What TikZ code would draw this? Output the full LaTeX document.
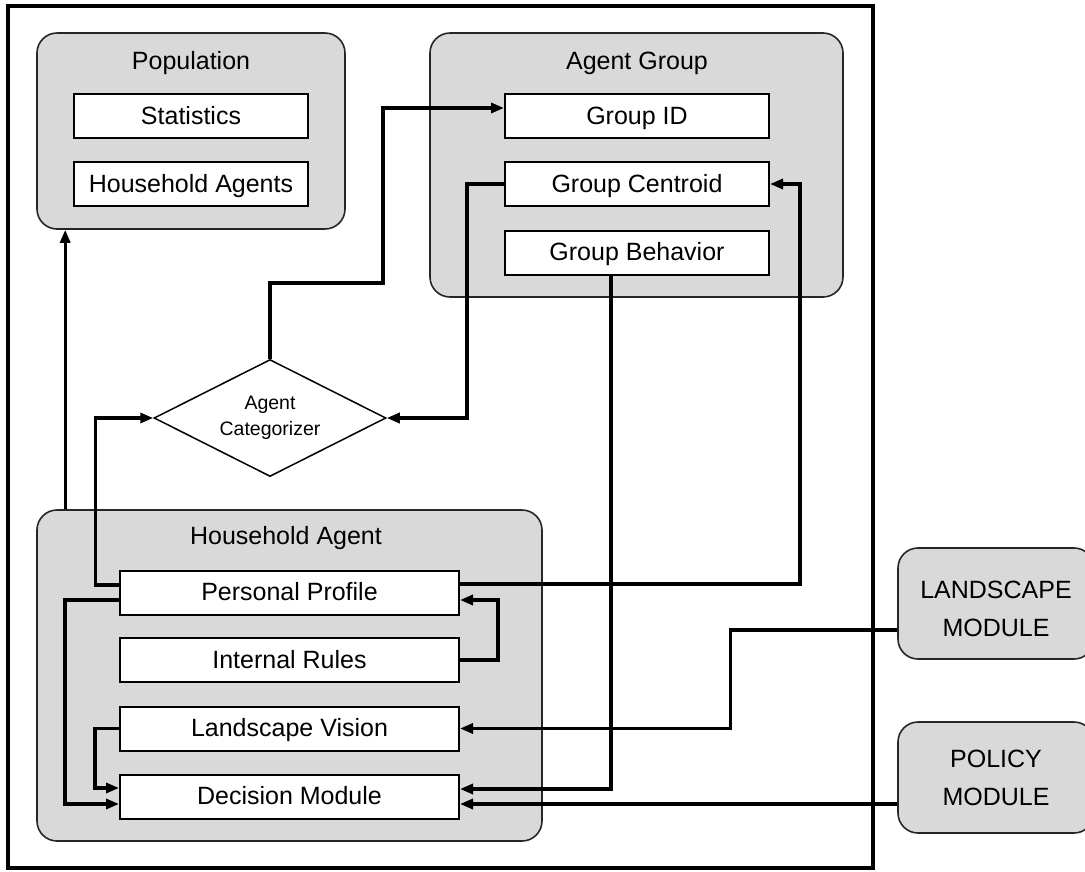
\documentclass[tikz,border=0pt]{standalone}
\usepackage{fontspec}
\setmainfont{Liberation Sans}
\usetikzlibrary{calc}
\usetikzlibrary{arrows.meta}
\usetikzlibrary{shapes.geometric}

\definecolor{boxgray}{HTML}{D9D9D9}

\begin{document}
\begin{tikzpicture} [x=1pt,y=-1pt,
  group/.style={draw=black!85,fill=boxgray,line width=1.6pt,rounded corners=20pt,inner sep=0pt},
  item/.style={draw=black,fill=white,line width=2pt,inner sep=0pt,minimum width=234pt,minimum height=44pt,text height=20pt,text depth=4pt,font=\fontsize{25}{28}\selectfont},
  title/.style={font=\fontsize{25}{28}\selectfont},
  module/.style={group,minimum width=196pt,minimum height=111pt,align=center,font=\fontsize{25}{38}\selectfont},
  conn/.style={line width=3.2pt,-{Triangle[length=13pt,width=10pt]}}]

\useasboundingbox (0,0) rectangle (1085,871);

% outer frame
\draw[line width=3.5pt] (8,6) rectangle (873,868);

% group boxes
\node[group,minimum width=308pt,minimum height=196pt] (pop) at (191,131) {};
\node[group,minimum width=413pt,minimum height=264pt] (agroup) at (636.5,165) {};
\node[group,minimum width=505pt,minimum height=331pt] (hagent) at (289.5,675.5) {};
\node[module,label={[align=center,font=\fontsize{25}{38}\selectfont,yshift=-5pt]center:LANDSCAPE\\MODULE}] (landscape) at (996,603.5) {};
\node[module] (policy) at (996,777.5) {POLICY\\MODULE};

\node[title] (poptitle) at (191,63) {Population};
\node[title] (agtitle) at (637,63) {Agent Group};
\node[title] (hatitle) at (286,538) {Household Agent};

% items
\node[item] (stats) at (191,116) {Statistics};
\node[item] (hhagents) at (191,184) {Household Agents};
\node[item,minimum width=264pt] (gid) at (637,116) {Group ID};
\node[item,minimum width=264pt] (gcentroid) at (637,184) {Group Centroid};
\node[item,minimum width=264pt] (gbehavior) at (637,252.5) {Group Behavior};
\node[item,minimum width=339pt] (profile) at (289.5,592.5) {Personal Profile};
\node[item,minimum width=339pt] (rules) at (289.5,660) {Internal Rules};
\node[item,minimum width=339pt] (vision) at (289.5,728.5) {Landscape Vision};
\node[item,minimum width=339pt] (decision) at (289.5,796.5) {Decision Module};

\node[diamond,aspect=2,draw,line width=1.5pt,fill=white,inner sep=0pt,minimum width=232pt,minimum height=117pt,align=center,font=\fontsize{19.5}{26}\selectfont] (categorizer) at (270,418) {Agent\\Categorizer};

% connectors
\draw[conn] ($(hagent.north west)+(29,0)$) -- ($(pop.south west)+(29,0)$);
\draw[conn] ($(profile.west)+(0,-7.5)$) -| ($(categorizer.west)+(-58,0)$) -- (categorizer.west);
\draw[conn] (categorizer.north) |- (383,283) |- ($(gid.west)+(0,-8)$);
\draw[conn] (gcentroid.west) -| (467,418) -- (categorizer.east);
\draw[conn] ($(gbehavior.south)+(-26,0)$) |- ($(decision.east)+(0,-7.5)$);
\draw[conn] ($(profile.east)+(0,-8.5)$) -| ($(gcentroid.east)+(30,0)$) -- (gcentroid.east);
\draw[conn] (rules.east) -- ++(38,0) |- ($(profile.east)+(0,7.5)$);
\draw[conn] ($(landscape.west)+(0,26.5)$) -- ++(-167,0) |- (vision.east);
\draw[conn] ($(policy.west)+(0,26.5)$) -- ($(decision.east)+(0,7.5)$);
\draw[conn] (vision.west) -- ++(-24,0) |- ($(decision.west)+(0,-8.5)$);
\draw[conn] ($(profile.west)+(0,7.5)$) -- ++(-54,0) |- ($(decision.west)+(0,7.5)$);

\end{tikzpicture}
\end{document}
